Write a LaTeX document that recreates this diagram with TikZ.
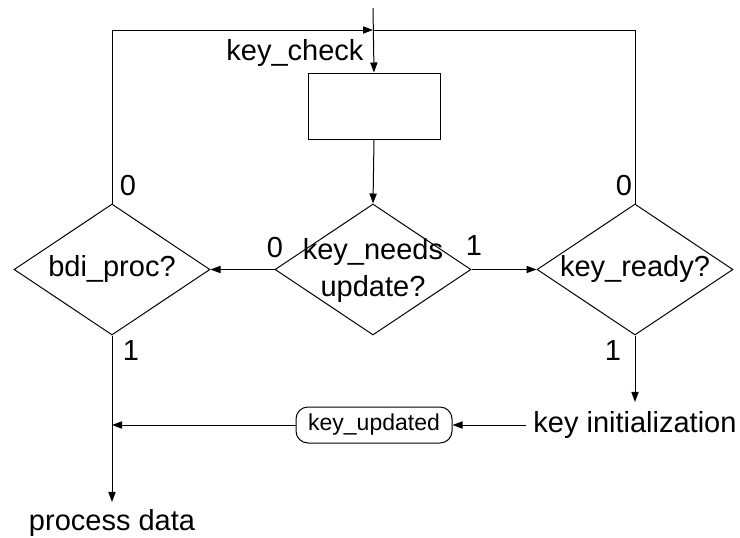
\documentclass[tikz,border=0pt]{standalone}
\usepackage{fontspec}
\setmainfont{Liberation Sans}
\usetikzlibrary{shapes.geometric,arrows.meta}
\begin{document}
\begin{tikzpicture}[x=0.5pt,y=-0.5pt,
  line width=0.5pt,
  arr/.style={-{Triangle[length=5pt,width=3.6pt]}},
  dia/.style={draw,shape=diamond,inner sep=0pt,minimum width=98pt,minimum height=65.5pt},
  txt/.style={font=\fontsize{14.5}{17}\selectfont,inner sep=0pt},
  lbl/.style={font=\fontsize{14.5}{17}\selectfont,inner sep=0pt},
  ]
\useasboundingbox (0,0) rectangle (740,537);
% nodes
\coordinate (top) at (373,8);
\coordinate (J) at (373,30);
\coordinate (TL) at (112,30);
\coordinate (TR) at (635,30);
\node[draw,minimum width=66pt,minimum height=33pt,inner sep=0pt] (box) at (374,106) {};
\node[dia] (kn) at (373,269.5) {};
\node[txt,align=center,font=\fontsize{14.5}{18.5}\selectfont] (kntext) at (373,270) {key\_needs\\update?};
\node[dia] (bdi) at (112,269.5) {};
\node[txt] (bditext) at (112,269) {bdi\_proc?};
\node[dia] (kr) at (635,269.5) {};
\node[txt] (krtext) at (635,269) {key\_ready?};
\node[draw,rounded corners=6pt,font=\fontsize{11.5}{13}\selectfont,minimum width=78pt,minimum height=18pt,inner sep=1pt] (ku) at (374,425) {key\_updated};
\node[txt,inner sep=3.5pt] (ki) at (635,425) {key initialization};
\node[txt,inner sep=3.5pt] (pd) at (112,523) {process data};
\coordinate (L1) at (112,425);
% labels
\node[txt] (kc) at (295,53) {key\_check};
\node[lbl] (l0a) at (128,186) {0};
\node[lbl] (l1a) at (131,351) {1};
\node[lbl] (l0b) at (275,248) {0};
\node[lbl] (l1b) at (474,246) {1};
\node[lbl] (l0c) at (624,186) {0};
\node[lbl] (l1c) at (613,351) {1};
% connectors
\draw[arr] (top) -- (box.north);
\draw[arr] (bdi.north) -- (TL) -- (J);
\draw (kr.north) -- (TR) -- (J);
\draw[arr] (box.south) -- (kn.north);
\draw[arr] (kn.west) -- (bdi.east);
\draw[arr] (kn.east) -- (kr.west);
\draw[arr] (kr.south) -- ([yshift=1pt]ki.north);
\draw[arr] (ki.west) -- (ku.east);
\draw[arr] (ku.west) -- (L1);
\draw[arr] (bdi.south) -- (pd.north);
\end{tikzpicture}
\end{document}
